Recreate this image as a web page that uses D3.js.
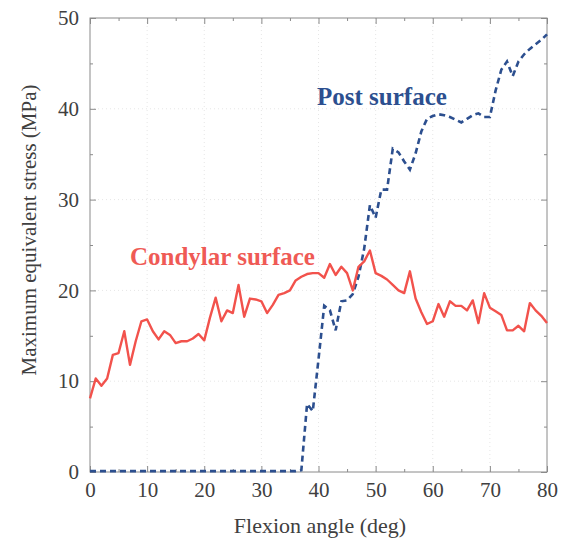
<!DOCTYPE html>
<html lang="en">
<head>
<meta charset="UTF-8">
<script src="https://cdn.jsdelivr.net/npm/d3@7.8.5/dist/d3.min.js"></script>
<title>Maximum equivalent stress vs flexion angle</title>
<style>
  body { margin: 0; background: #fff; }
  text { font-family: "Liberation Serif", "DejaVu Serif", serif; }
</style>
</head>
<body onload="main()">
<svg width="564" height="539"></svg>
<script>
// flexion angle 0..80 deg, 1 deg steps
var angles = d3.range(0, 81);

// condylar surface stress (MPa)
var condylar = [
  8.1, 10.3, 9.5, 10.3, 12.9, 13.1, 15.5, 11.8, 14.4, 16.6,
  16.8, 15.5, 14.6, 15.5, 15.1, 14.2, 14.4, 14.4, 14.7, 15.2,
  14.5, 17.0, 19.2, 16.6, 17.8, 17.5, 20.6, 17.1, 19.1, 19.0,
  18.8, 17.5, 18.4, 19.5, 19.7, 20.0, 21.1, 21.5, 21.8, 21.9,
  21.9, 21.4, 22.9, 21.7, 22.6, 21.9, 20.0, 22.6, 23.2, 24.4,
  21.9, 21.6, 21.2, 20.6, 20.0, 19.7, 22.1, 19.1, 17.6, 16.3,
  16.6, 18.5, 17.1, 18.8, 18.3, 18.3, 17.8, 18.9, 16.4, 19.7,
  18.1, 17.7, 17.3, 15.6, 15.6, 16.1, 15.5, 18.6, 17.8, 17.2,
  16.4
];

// post surface stress (MPa)
var post = [
  0.1, 0.1, 0.1, 0.1, 0.1, 0.1, 0.1, 0.1, 0.1, 0.1,
  0.1, 0.1, 0.1, 0.1, 0.1, 0.1, 0.1, 0.1, 0.1, 0.1,
  0.1, 0.1, 0.1, 0.1, 0.1, 0.1, 0.1, 0.1, 0.1, 0.1,
  0.1, 0.1, 0.1, 0.1, 0.1, 0.1, 0.1, 0.2, 7.5, 6.7,
  12.4, 18.3, 17.8, 15.6, 18.8, 18.9, 19.6, 21.5, 24.6, 29.4,
  28.0, 31.1, 31.1, 35.6, 35.2, 34.2, 33.3, 35.1, 37.5, 38.9,
  39.2, 39.4, 39.3, 39.1, 38.8, 38.5, 38.9, 39.3, 39.5, 39.1,
  39.1, 42.0, 44.3, 45.2, 43.6, 45.2, 46.0, 46.6, 47.1, 47.6,
  48.2
];

var xTicks = [0, 10, 20, 30, 40, 50, 60, 70, 80];
var yTicks = [0, 10, 20, 30, 40, 50];

function main() {
  var svg = d3.select("svg");
  var pLeft = 90, pRight = 547, pTop = 18, pBottom = 472;

  var x = d3.scaleLinear().domain([0, 80]).range([pLeft, pRight]);
  var y = d3.scaleLinear().domain([0, 50]).range([pBottom, pTop]);

  // faint grid
  var grid = svg.append("g").attr("stroke", "#e6e6e6").attr("stroke-width", 1).attr("stroke-dasharray", "1,3");
  grid.selectAll(".gx").data(xTicks.slice(1, -1)).enter().append("line")
    .attr("x1", function(d){ return x(d); }).attr("x2", function(d){ return x(d); })
    .attr("y1", pTop).attr("y2", pBottom);
  grid.selectAll(".gy").data(yTicks.slice(1, -1)).enter().append("line")
    .attr("x1", pLeft).attr("x2", pRight)
    .attr("y1", function(d){ return y(d); }).attr("y2", function(d){ return y(d); });

  // axes with inward ticks
  var axisColor = "#8a8a8a";
  function styleAxis(g) {
    g.select(".domain").remove();
    g.selectAll(".tick line").attr("stroke", axisColor);
    g.selectAll("text").attr("fill", "#404040").style("font-size", "21px")
      .style("font-family", "'Liberation Serif', serif");
  }
  var minorX = d3.range(5, 80, 10), minorY = d3.range(5, 50, 10);

  svg.append("g").attr("transform", "translate(0," + pBottom + ")")
    .call(d3.axisBottom(x).tickValues(xTicks).tickSize(-6).tickPadding(10))
    .call(styleAxis);
  svg.append("g").attr("transform", "translate(0," + pBottom + ")")
    .call(d3.axisBottom(x).tickValues(minorX).tickSize(-3).tickFormat(""))
    .call(styleAxis);
  svg.append("g").attr("transform", "translate(0," + pTop + ")")
    .call(d3.axisTop(x).tickValues(xTicks).tickSize(-6).tickFormat(""))
    .call(styleAxis);
  svg.append("g").attr("transform", "translate(0," + pTop + ")")
    .call(d3.axisTop(x).tickValues(minorX).tickSize(-3).tickFormat(""))
    .call(styleAxis);
  svg.append("g").attr("transform", "translate(" + pLeft + ",0)")
    .call(d3.axisLeft(y).tickValues(yTicks).tickSize(-6).tickPadding(11))
    .call(styleAxis);
  svg.append("g").attr("transform", "translate(" + pLeft + ",0)")
    .call(d3.axisLeft(y).tickValues(minorY).tickSize(-3).tickFormat(""))
    .call(styleAxis);
  svg.append("g").attr("transform", "translate(" + pRight + ",0)")
    .call(d3.axisRight(y).tickValues(yTicks).tickSize(-6).tickFormat(""))
    .call(styleAxis);
  svg.append("g").attr("transform", "translate(" + pRight + ",0)")
    .call(d3.axisRight(y).tickValues(minorY).tickSize(-3).tickFormat(""))
    .call(styleAxis);

  // frame
  svg.append("rect").attr("x", pLeft).attr("y", pTop)
    .attr("width", pRight - pLeft).attr("height", pBottom - pTop)
    .attr("fill", "none").attr("stroke", axisColor).attr("stroke-width", 1);

  // lines
  var line = d3.line()
    .x(function(d, i){ return x(angles[i]); })
    .y(function(d){ return y(d); });
  svg.append("path").attr("d", line(post))
    .attr("fill", "none").attr("stroke", "#2c4f8f").attr("stroke-width", 2.6)
    .attr("stroke-dasharray", "6,4");
  svg.append("path").attr("d", line(condylar))
    .attr("fill", "none").attr("stroke", "#f2524c").attr("stroke-width", 2.4)
    .attr("stroke-linejoin", "round");

  // series labels
  svg.append("text").attr("x", 130).attr("y", 265)
    .attr("fill", "#ef5a55").style("font-size", "25px").style("font-weight", "bold")
    .text("Condylar surface");
  svg.append("text").attr("x", 317).attr("y", 105)
    .attr("fill", "#2c4f8f").style("font-size", "25px").style("font-weight", "bold")
    .text("Post surface");

  // axis titles
  svg.append("text").attr("x", 320).attr("y", 533).attr("text-anchor", "middle")
    .attr("fill", "#404040").style("font-size", "22px")
    .text("Flexion angle (deg)");
  svg.append("text").attr("transform", "translate(36,230) rotate(-90)").attr("text-anchor", "middle")
    .attr("fill", "#404040").style("font-size", "21px")
    .text("Maximum equivalent stress (MPa)");
}
</script>
</body>
</html>
